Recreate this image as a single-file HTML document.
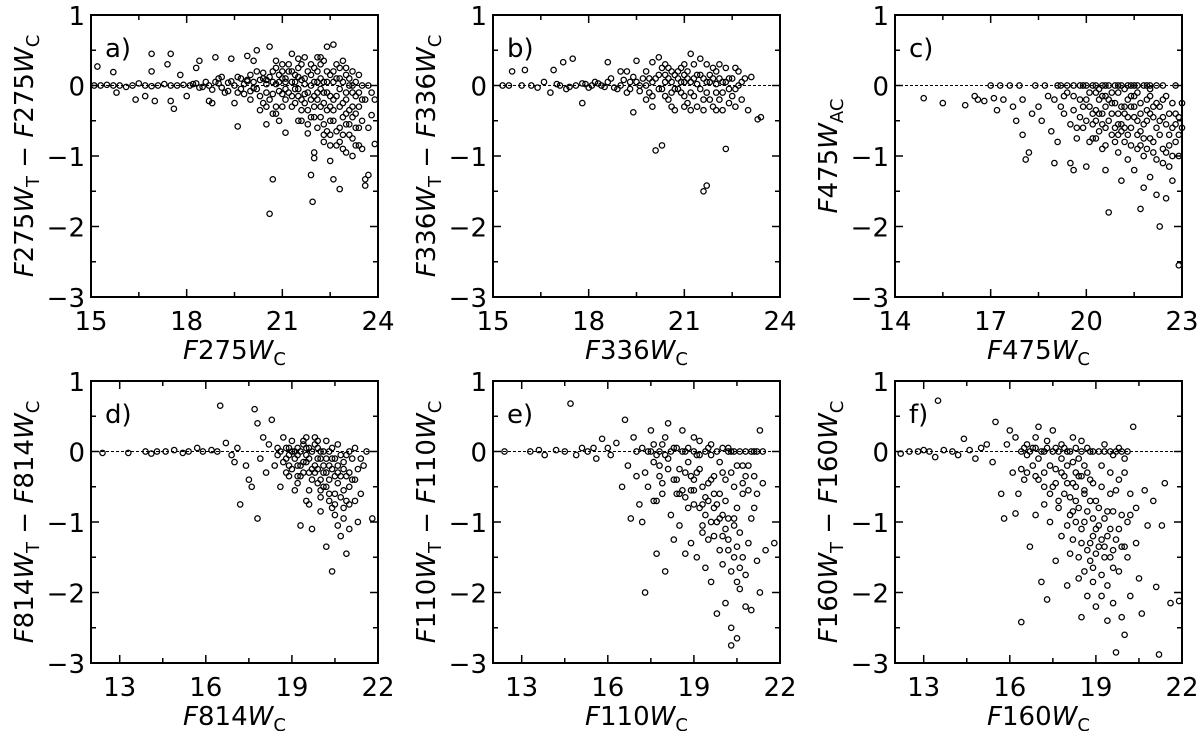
<!DOCTYPE html>
<html><head><meta charset="utf-8"><style>
html,body{margin:0;padding:0;background:#fff;width:1200px;height:731px;overflow:hidden}
svg text{font-family:"DejaVu Sans","Liberation Sans",sans-serif;fill:#000}
</style></head><body>
<svg id="fig" width="1200" height="731" viewBox="0 0 1200 731" xmlns="http://www.w3.org/2000/svg"></svg>
<script>
const aPoints=[[15.1,0],[15.3,0],[15.5,0.01],[15.7,0],[15.9,0],[16.1,-0.02],[16.3,0],[16.5,0.03],[16.7,0],[16.9,-0.01],[17.1,0],[17.3,0.02],[17.5,0],[17.7,0],[17.9,0.01],[18.1,0],[18.3,0.03],[18.5,-0.02],[18.7,0],[18.9,0.05],[19.1,-0.03],[19.3,0.04],[19.5,0],[19.7,-0.05],[19.9,0.06],[20.1,-0.04],[20.3,0.08],[20.5,-0.1],[20.7,0.05],[20.9,-0.08],[21.1,0.1],[21.3,-0.15],[21.5,0.12],[21.7,-0.12],[21.9,0.15],[22.1,-0.2],[22.3,0.05],[22.5,-0.3],[22.7,0.1],[22.9,-0.25],[23.1,0],[23.3,-0.4],[23.5,-0.2],
[15.2,0.27],[15.7,0.19],[15.8,-0.1],[16.4,-0.2],[16.7,-0.15],[16.9,0.45],[16.9,0.2],[17.0,-0.22],[17.4,0.3],[17.5,0.45],[17.5,-0.22],[17.6,-0.33],[17.8,0.15],[18.0,-0.15],[18.3,0.25],[18.4,0.35],[18.7,-0.22],[18.8,-0.25],[18.9,0.4],[19.4,0.38],[19.5,-0.25],[19.6,-0.58],[19.9,0.42],[20.1,0.35],[20.2,0.5],[20.5,-0.55],[20.3,-0.35],[20.6,0.55],[20.7,-0.4],[20.8,-0.4],[20.9,-0.5],[21.0,0.3],[21.1,-0.67],[21.3,0.45],[21.5,-0.5],[21.7,0.4],[21.8,-0.68],[21.9,-1.27],[21.95,-1.65],[22.0,-0.95],[22.0,-1.03],[22.2,0.4],[22.3,-0.7],[22.4,0.55],[22.5,-1.07],[22.6,-1.33],[22.6,0.58],[22.8,-1.47],[22.9,-0.9],[23.0,-0.95],[23.2,-1.0],[23.3,-0.85],[23.5,-0.9],[23.6,-1.33],[23.6,-1.42],[23.7,-1.27],[23.8,-0.42],[23.9,-0.83],[23.7,-0.6],[23.9,-0.2],[23.8,-0.1],[20.6,-1.82],[20.7,-1.33],
[20.2,0.2],[20.4,0.1],[20.6,-0.2],[20.8,0.25],[21.0,-0.3],[21.2,0.2],[21.4,-0.25],[21.6,0.3],[21.8,-0.35],[22.0,0.25],[22.2,-0.45],[22.4,0.2],[22.6,-0.5],[22.8,0.25],[23.0,-0.55],[23.2,0.2],[23.4,-0.6],[22.1,-0.6],[22.3,-0.8],[22.5,-0.7],[22.7,-0.65],[22.9,-0.45],[23.1,-0.35],[23.3,-0.15],[21.9,-0.45],[21.6,-0.2],[21.2,-0.1],[22.7,0.3],[22.3,0.35],[23.0,0.15],
[19.0,0.1],[19.2,-0.1],[19.6,0.12],[19.8,-0.12],[20.0,0.15],[20.0,-0.2],[20.4,-0.25],[20.9,0.15],[21.1,-0.2],[21.5,-0.05],[21.7,0.1],[22.0,-0.15],[22.2,0.1],[22.4,-0.1],[22.6,-0.2],[22.8,-0.05],[23.0,-0.2],[23.2,-0.45],[22.2,-0.3],[21.4,0.05],[20.8,-0.3],[21.8,-0.55],[22.5,-0.85],[23.1,-0.7],[23.4,-0.3],
[18.2,0.02],[18.4,-0.03],[18.6,0.05],[18.8,-0.06],[19.0,0.03],[19.1,0.12],[19.3,-0.08],[19.4,0.06],[19.6,-0.1],[19.7,0.1],[19.8,0.02],[20.0,-0.08],[20.1,0.05],[20.3,-0.15],[20.4,0.18],[20.5,0.02],[20.6,0.12],[20.7,-0.12],[20.9,0.05],[21.0,0.1],[21.0,-0.12],[21.1,-0.05],[21.2,0.3],[21.3,0.05],[21.3,-0.3],[21.4,0.15],[21.5,-0.15],[21.5,0.25],[21.6,-0.35],[21.7,0.02],[21.7,-0.25],[21.8,0.2],[21.8,-0.1],[21.9,0.3],[21.9,0],[22.0,-0.3],[22.0,0.05],[22.1,0.2],[22.1,-0.1],[22.2,-0.05],[22.2,0.3],[22.3,-0.25],[22.3,-0.55],[22.4,-0.35],[22.4,0.05],[22.5,0.15],[22.5,-0.15],[22.5,-0.5],[22.6,0.05],[22.6,-0.35],[22.7,-0.15],[22.7,-0.85],[22.8,-0.3],[22.8,-0.6],[22.9,0.05],[22.9,-0.7],[23.0,-0.1],[23.0,-0.4],[23.1,0.1],[23.1,-0.55],[23.2,-0.1],[23.2,-0.75],[23.3,0.05],[23.3,-0.6],[23.4,-0.1],[23.4,-0.85],[23.5,0],[23.5,-0.5],[23.6,-0.2],[23.7,0],
[19.9,0.08],[20.2,-0.05],[20.5,0.08],[20.8,0.02],[21.1,0.05],[21.4,-0.05],[21.6,0.08],[21.9,-0.2],[22.1,0.05],[22.3,-0.1],[22.6,0.2],[22.8,0.1],[23.0,0.25],[23.2,0],[21.3,0.2],[21.0,0.2],[20.7,0.2],[20.5,-0.3],[21.6,-0.5],[22.0,-0.45],[22.4,-0.65],[22.8,-0.8],[23.2,-0.3],[23.4,0.15],[22.9,0.35],[22.1,0.4],[21.5,0.38],[20.8,0.35]];
const bPoints=[[15.3,0],[15.5,0],[15.6,0.2],[15.9,0],[16.0,0.22],[16.2,0],[16.4,-0.03],[16.6,0.05],[16.8,-0.1],[16.9,0.22],[17.1,0],[17.2,0.33],[17.3,-0.05],[17.5,0.38],[17.6,0],[17.8,-0.25],[17.9,0.02],[18.1,0],[18.3,0.03],[18.5,-0.02],[18.6,0.33],[18.7,0.1],[18.9,-0.05],[19.0,0.2],[19.2,-0.1],[19.3,0.05],[19.4,-0.38],[19.5,0.35],[19.6,0],[19.8,-0.2],[19.9,0.1],[20.0,0.33],[20.1,-0.92],[20.2,0.4],[20.3,-0.85],[20.4,0.05],[20.5,-0.2],[20.6,0.2],[20.7,-0.35],[20.8,0.1],[20.9,-0.1],[21.0,0.3],[21.1,-0.25],[21.2,0.45],[21.3,0.1],[21.4,-0.3],[21.5,0.38],[21.6,-1.5],[21.7,-1.42],[21.7,0.05],[21.8,-0.2],[21.9,0.25],[22.0,-0.1],[22.1,0.3],[22.2,-0.35],[22.3,-0.9],[22.4,0.1],[22.5,-0.15],[22.6,0.25],[22.7,0],[22.8,-0.2],[22.9,0.1],[23.0,-0.35],[23.1,0.12],[23.3,-0.48],[23.4,-0.45],
[19.0,0],[19.5,0.05],[19.8,0],[20.0,0.05],[20.2,-0.05],[20.4,0.15],[20.6,-0.1],[20.8,-0.05],[21.0,0.05],[21.2,-0.1],[21.4,0.15],[21.6,0.1],[21.8,0.15],[22.0,0.2],[22.2,0.05],[22.4,-0.25],[22.6,-0.05],[21.1,0.2],[21.3,-0.15],[21.5,-0.05],[21.9,-0.3],[20.3,0.25],[20.9,0.25],[21.7,0.3],[22.1,-0.2],[20.5,0.1],[21.0,-0.15],[20.7,0.15],[22.3,0.25],
[17.0,0.02],[17.4,-0.02],[17.8,0.03],[18.0,-0.03],[18.2,0.05],[18.4,0],[18.6,0.05],[18.8,-0.03],[19.1,0.08],[19.3,-0.05],[19.4,0.12],[19.6,-0.08],[19.7,0.1],[19.9,-0.1],[20.0,-0.15],[20.1,0.1],[20.2,0.15],[20.3,-0.05],[20.4,-0.15],[20.5,0.25],[20.6,0.05],[20.7,-0.05],[20.8,0.2],[20.9,0.05],[21.0,-0.3],[21.1,0.1],[21.2,0.05],[21.3,0.3],[21.4,0.02],[21.5,0.15],[21.6,-0.2],[21.7,-0.1],[21.8,0.05],[21.9,0.1],[22.0,0.02],[22.1,0.1],[22.2,-0.1],[22.3,0.05],[22.5,0.1],[22.6,-0.3],[22.7,0.2],[22.8,0.05],[19.2,0.2],[19.8,0.2],[20.0,-0.3],[20.6,-0.3],[21.2,-0.35],[21.6,-0.35],[22.0,-0.35],[22.4,-0.05],[20.4,0.3],[21.0,0.15]];
const cPoints=[[14.9,-0.18],[15.5,-0.25],[16.2,-0.28],[16.5,-0.15],[16.6,-0.2],[16.8,-0.22],[17.0,0],[17.1,-0.18],[17.2,-0.35],[17.3,0],[17.4,-0.2],[17.6,0],[17.7,-0.3],[17.8,-0.5],[17.9,0],[18.0,-0.2],[18.0,-0.7],[18.1,-1.05],[18.2,-0.95],[18.3,-0.4],[18.4,0],[18.5,-0.3],[18.6,-0.5],[18.7,0],[18.8,-0.15],[18.9,-0.65],[19.0,-1.1],[19.1,-0.8],[19.2,0],[19.3,-0.4],[19.5,-1.1],[19.6,-1.2],[19.7,-0.6],[19.8,0],[19.9,-0.3],[20.0,-1.15],[20.1,-0.8],[20.2,0],[20.3,-0.5],[20.4,-0.2],[20.5,-0.9],[20.6,-1.2],[20.7,-1.8],[20.8,-0.4],[20.9,0],[21.0,-0.7],[21.1,-1.35],[21.2,-0.3],[21.3,-1.05],[21.4,-0.6],[21.5,-1.2],[21.6,-0.9],[21.7,-1.75],[21.8,-1.45],[21.9,-0.5],[22.0,-1.3],[22.1,-0.8],[22.2,-1.55],[22.3,-2.0],[22.4,-1.1],[22.5,-1.6],[22.6,-0.7],[22.7,-1.35],[22.8,-0.4],[22.9,-2.55],[22.9,-1.0],[23.0,-0.25],
[19.0,-0.2],[19.2,-0.3],[19.4,-0.1],[19.6,-0.35],[19.8,-0.45],[20.0,-0.2],[20.2,-0.55],[20.4,-0.65],[20.6,-0.3],[20.8,-0.7],[21.0,-0.4],[21.2,-0.8],[21.4,-0.3],[21.6,-0.5],[21.8,-0.75],[22.0,-0.4],[22.2,-0.6],[22.4,-0.9],[22.6,-0.4],[22.8,-0.8],[20.1,-0.1],[20.3,-0.35],[20.5,-0.15],[20.7,-0.5],[20.9,-0.25],[21.1,-0.55],[21.3,-0.2],[21.5,-0.45],[21.7,-0.25],[21.9,-0.9],[22.1,-0.3],[22.3,-0.5],[22.5,-0.15],[22.7,-0.6],[20.0,-0.5],[20.4,-0.4],[20.8,-0.1],[21.2,-0.05],[21.6,-0.1],[22.0,-0.05],[22.4,-0.2],[19.9,0],[20.6,0],[21.4,0],[22.2,0],[22.8,0],[20.2,-0.75],[20.6,-0.85],[21.0,-0.95],[21.4,-0.85],[21.8,-1.0],[22.2,-1.05],[22.6,-1.15],[20.5,-0.55],[21.1,-0.65],[21.7,-0.65],[22.3,-0.7],[19.5,-0.55],[19.7,-0.75],[19.3,-0.15],[19.9,-0.6],
[19.1,0],[19.4,0],[19.6,0],[20.0,0],[20.3,0],[20.5,0],[20.7,0],[21.0,0],[21.1,0],[21.3,0],[21.5,0],[21.6,0],[21.8,0],[21.9,0],[22.0,0],[22.4,0],[20.1,-0.3],[20.3,-0.1],[20.5,-0.4],[20.7,-0.2],[20.9,-0.6],[21.1,-0.3],[21.3,-0.45],[21.5,-0.3],[21.7,-0.4],[21.9,-0.2],[22.1,-0.45],[22.3,-0.3],[22.5,-0.55],[22.7,-0.25],[20.2,-0.4],[20.4,-0.05],[20.6,-0.6],[20.8,-0.25],[21.0,-0.55],[21.2,-0.6],[21.4,-0.15],[21.6,-0.7],[21.8,-0.55],[22.0,-0.75],[22.2,-0.25],[22.4,-0.45],[22.6,-0.85],[22.8,-0.55],[20.9,-0.8],[21.3,-0.7],[21.7,-0.85],[22.1,-0.95],[22.5,-0.95],[22.9,-0.7],[21.0,-0.1],[21.5,-0.15],[22.0,-0.15],[20.6,-0.15],[21.9,-0.35],[21.2,-0.4],[20.3,-0.75],[19.8,-0.2],[19.6,-0.15],[22.7,-1.0],[22.9,-0.45],[23.0,-0.6]];
const dPoints=[[12.4,-0.02],[13.3,-0.02],[13.9,0],[14.1,-0.03],[14.3,0],[14.6,0],[14.9,0.02],[15.2,-0.02],[15.4,0],[15.7,0.05],[15.9,0],[16.2,0.02],[16.4,0],[16.5,0.65],[16.7,0.12],[16.9,-0.05],[17.0,-0.15],[17.1,0.05],[17.2,-0.75],[17.4,-0.2],[17.5,-0.4],[17.6,-0.5],[17.7,0.6],[17.8,0.4],[17.8,-0.95],[17.9,-0.1],[18.0,0.2],[18.1,-0.3],[18.2,0.1],[18.3,0.45],[18.4,-0.2],[18.5,0.05],[18.6,-0.5],[18.7,0.2],[18.8,-0.1],[18.9,-0.35],[19.0,0.15],[19.1,-0.55],[19.2,-0.2],[19.3,-1.05],[19.4,0.1],[19.5,-0.7],[19.6,-0.3],[19.7,-1.1],[19.8,0.2],[19.9,-0.45],[20.0,-0.85],[20.1,-0.2],[20.2,-1.35],[20.3,-0.6],[20.4,-1.7],[20.5,-0.9],[20.6,-0.3],[20.7,-1.2],[20.8,-0.55],[20.9,-1.45],[21.0,-0.75],[21.1,-0.1],[21.2,-0.4],[21.3,-1.0],[21.4,-0.6],[21.5,-0.2],[21.6,0],[21.8,-0.95],
[18.5,-0.05],[18.7,-0.15],[18.9,0.05],[19.0,-0.25],[19.2,0.05],[19.4,-0.15],[19.6,0.05],[19.8,-0.2],[20.0,0],[20.2,-0.3],[20.4,-0.1],[20.6,-0.45],[20.8,-0.15],[21.0,-0.3],[19.1,0],[19.3,-0.35],[19.5,-0.05],[19.7,-0.4],[19.9,-0.1],[20.1,-0.5],[20.3,-0.2],[20.5,-0.6],[20.7,-0.05],[20.9,-0.7],[19.6,-0.55],[20.0,-0.65],[20.4,-0.8],[20.8,-0.95],[19.2,-0.45],[19.8,0.1],[20.6,0.1],[21.2,0.05],[19.4,0.15],[20.2,0.15],[18.8,-0.3],[20.6,-1.05],[21.0,-1.1],
[18.6,0],[18.8,0.05],[18.9,-0.05],[19.0,0],[19.1,-0.1],[19.2,-0.05],[19.3,0],[19.3,-0.2],[19.4,-0.3],[19.5,0.05],[19.5,-0.15],[19.6,-0.1],[19.7,0],[19.7,-0.25],[19.8,-0.3],[19.9,0.05],[19.9,-0.25],[20.0,-0.1],[20.0,-0.4],[20.1,0],[20.1,-0.3],[20.2,-0.1],[20.2,-0.5],[20.3,0],[20.3,-0.4],[20.4,-0.25],[20.5,-0.1],[20.5,-0.35],[20.6,-0.2],[20.7,-0.35],[20.7,-0.65],[20.8,-0.25],[20.9,-0.05],[20.9,-0.35],[21.0,-0.5],[21.1,-0.4],[21.2,-0.7],[21.3,-0.25],[21.4,-0.1],[19.6,-0.75],[20.0,-0.55],[20.3,-0.7],[20.5,-0.75],[20.8,-0.8],[21.0,0],[20.4,0.05],[19.9,0.15],[19.5,0.2],[19.2,-0.35],[18.9,-0.2]];
const ePoints=[[12.4,0],[13.3,0],[13.6,0.02],[13.8,-0.05],[14.2,0.02],[14.5,0],[14.7,0.68],[14.9,-0.05],[15.1,0.05],[15.3,0],[15.5,0.05],[15.6,-0.1],[15.8,0.18],[16.0,0.05],[16.1,-0.05],[16.3,0.12],[16.5,-0.5],[16.6,0.45],[16.7,-0.2],[16.8,-0.95],[16.9,0.2],[17.0,-0.35],[17.1,-0.75],[17.2,-1.0],[17.3,-2.0],[17.4,-0.5],[17.5,0.3],[17.6,-0.7],[17.7,-1.45],[17.8,-0.2],[17.9,-0.45],[18.0,-1.7],[18.1,0.4],[18.2,-0.9],[18.3,-1.25],[18.4,-0.6],[18.5,-1.05],[18.6,0.3],[18.7,-1.45],[18.8,-0.8],[18.9,-1.3],[19.0,-0.4],[19.1,-1.5],[19.2,0.15],[19.3,-1.15],[19.4,-1.65],[19.5,-0.7],[19.6,-1.85],[19.7,-1.2],[19.8,-2.3],[19.9,-0.95],[20.0,-1.6],[20.1,-2.15],[20.2,-1.4],[20.3,-2.5],[20.3,-2.75],[20.4,-1.05],[20.5,-2.65],[20.6,-1.95],[20.7,-0.6],[20.8,-2.2],[20.9,-1.3],[21.0,-2.25],[21.1,-0.8],[21.2,-1.55],[21.3,-2.0],[21.4,-0.45],[21.5,-1.4],[21.8,-1.3],[21.1,0],[21.3,0.3],
[17.5,0],[17.7,-0.05],[17.9,0.1],[18.1,-0.1],[18.3,0.05],[18.5,-0.25],[18.7,0],[18.9,-0.35],[19.1,-0.05],[19.3,-0.5],[19.5,0.05],[19.7,-0.6],[19.9,-0.15],[20.1,-0.7],[20.3,0],[20.5,-0.8],[20.7,-0.2],[20.9,-0.55],[18.6,-0.55],[18.8,-0.15],[19.0,-0.75],[19.2,-0.25],[19.4,-0.9],[19.6,-0.4],[19.8,-1.0],[20.0,-0.3],[20.2,-0.95],[20.4,-0.5],[20.6,-1.15],[20.8,-0.35],[19.3,-1.05],[19.5,-1.25],[19.7,-0.8],[19.9,-1.4],[20.1,-1.1],[20.3,-1.7],[20.5,-1.35],[20.7,-1.5],[17.8,-0.35],[18.0,0.2],[18.4,-0.4],[19.0,0.2],[19.6,0.1],[20.2,0.05],[17.3,-0.3],[17.6,-0.15],
[17.0,0],[17.2,0.05],[17.4,0],[17.6,0.1],[17.8,0],[18.0,-0.05],[18.2,0],[18.4,0.05],[18.6,0],[18.8,0.05],[19.0,0],[19.2,-0.05],[19.4,0],[19.6,-0.05],[19.8,0],[20.0,0.05],[20.2,0],[20.4,0],[20.6,0],[20.8,0],[21.0,0],[21.2,0],[21.4,0],[18.1,-0.25],[18.3,-0.4],[18.5,-0.6],[18.7,-0.3],[18.9,-0.55],[19.1,-0.3],[19.3,-0.75],[19.5,-0.45],[19.7,-0.35],[19.9,-0.6],[20.1,-0.4],[20.3,-0.3],[20.5,-0.2],[20.7,-0.45],[20.9,-0.2],[21.1,-0.35],[19.4,-0.65],[19.6,-1.0],[19.8,-0.75],[20.0,-1.2],[20.2,-1.25],[20.4,-1.5],[20.6,-1.65],[20.0,-0.9],[19.2,-0.8],[19.0,-0.55],[18.7,-0.65],[17.9,-0.6],[17.7,-0.7],[20.8,-1.75],[20.5,-1.85],[20.4,-0.95],[21.0,-0.95],[21.2,-0.6]];
const fPoints=[[12.2,-0.03],[12.5,0],[12.8,0],[13.0,0.02],[13.2,0],[13.4,-0.08],[13.5,0.72],[13.7,0.02],[14.0,0],[14.2,-0.05],[14.4,0.18],[14.6,0.02],[14.8,-0.1],[15.0,0.05],[15.2,0.1],[15.4,-0.15],[15.5,0.42],[15.7,-0.6],[15.8,-0.95],[15.9,0.1],[16.0,0.3],[16.1,-0.3],[16.2,-0.88],[16.3,-0.6],[16.4,-2.42],[16.5,-0.4],[16.6,0.1],[16.7,-1.35],[16.8,-0.2],[16.9,-0.9],[17.0,0.35],[17.1,-1.85],[17.2,-0.5],[17.3,-2.1],[17.4,-1.0],[17.5,0.3],[17.6,-1.55],[17.7,-0.7],[17.8,-1.2],[17.9,-0.35],[18.0,-1.9],[18.1,-1.45],[18.2,0.2],[18.3,-1.0],[18.4,-1.8],[18.5,-2.35],[18.6,-0.6],[18.7,-2.05],[18.8,-1.3],[18.9,-1.85],[19.0,-2.2],[19.1,-0.8],[19.2,-2.05],[19.3,-1.5],[19.4,-2.4],[19.5,-1.1],[19.6,-2.15],[19.7,-2.85],[19.8,-1.7],[19.9,-2.35],[20.0,-2.6],[20.1,-1.0],[20.2,-2.05],[20.3,0.35],[20.4,-1.3],[20.5,-1.8],[20.6,-2.3],[20.7,-0.55],[20.8,-1.05],[21.0,-0.7],[21.1,-1.92],[21.2,-2.88],[21.3,-1.05],[21.4,-0.45],[21.6,-2.15],[21.9,-2.12],
[16.4,0],[16.6,-0.05],[16.8,0.05],[17.0,-0.1],[17.2,0],[17.4,-0.2],[17.6,0.05],[17.8,-0.3],[18.0,0],[18.2,-0.45],[18.4,-0.1],[18.6,-0.55],[18.8,0],[19.0,-0.7],[19.2,-0.2],[19.4,-0.85],[19.6,-0.05],[19.8,-0.4],[20.0,-0.1],[20.2,-0.6],[17.5,-0.5],[17.7,-0.8],[17.9,-0.6],[18.1,-0.9],[18.3,-0.7],[18.5,-1.1],[18.7,-0.85],[18.9,-1.2],[19.1,-1.05],[19.3,-1.35],[19.5,-0.6],[19.7,-1.25],[19.9,-0.9],[20.1,-1.5],[18.2,-1.25],[18.4,-1.5],[18.6,-1.7],[18.8,-1.55],[19.0,-1.45],[19.2,-1.75],[19.4,-1.9],[19.6,-1.65],[17.2,-0.3],[16.9,0.2],[17.3,0.15],[17.8,0.1],[18.5,0.15],[19.3,0.1],[19.8,0.05],[16.2,0.2],[16.4,-0.25],[16.9,-0.35],[17.6,-0.25],[18.0,-0.2],[18.7,-0.3],[19.5,-0.3],[20.0,-0.3],[18.3,-0.3],[18.9,-0.45],
[16.5,0.05],[16.7,0],[16.9,0.05],[17.1,0],[17.3,0.05],[17.5,0],[17.7,0],[17.9,0.05],[18.1,0],[18.3,0.05],[18.5,0],[18.7,0.05],[18.9,0],[19.1,0],[19.3,0],[19.5,0],[19.7,0],[19.9,0],[20.1,0],[17.8,-0.1],[18.0,-0.45],[18.1,-0.65],[18.2,-0.15],[18.3,-0.5],[18.4,-0.8],[18.5,-0.35],[18.6,-1.0],[18.7,-1.4],[18.8,-0.7],[18.9,-0.95],[19.0,-1.1],[19.1,-1.35],[19.2,-0.5],[19.3,-0.95],[19.4,-1.2],[19.5,-1.5],[19.6,-0.85],[19.7,-0.55],[19.8,-1.1],[19.9,-1.35],[18.0,-1.05],[18.2,-0.85],[18.4,-0.35],[18.6,-0.2],[18.8,-0.4],[17.4,-0.6],[17.0,-0.4],[16.6,-0.3],[20.2,-0.9],[20.4,-0.8],[19.2,-1.25],[18.9,-1.65],[18.5,-1.3],[19.6,-1.4],[20.0,-1.35],[17.6,-0.45],[17.2,-0.75]];

const panels=[
 {id:'a',pts:aPoints,left:91,top:15,xmin:15,xmax:24,major:[15,18,21,24],minor:[16.5,19.5,22.5],flt:'275',ylabel:'diff'},
 {id:'b',pts:bPoints,left:493,top:15,xmin:15,xmax:24,major:[15,18,21,24],minor:[16.5,19.5,22.5],flt:'336',ylabel:'diff'},
 {id:'c',pts:cPoints,left:895,top:15,xmin:14,xmax:23,major:[14,17,20,23],minor:[15.5,18.5,21.5],flt:'475',ylabel:'ac'},
 {id:'d',pts:dPoints,left:91,top:381,xmin:12,xmax:22,major:[13,16,19,22],minor:[14.5,17.5,20.5],flt:'814',ylabel:'diff'},
 {id:'e',pts:ePoints,left:493,top:381,xmin:12,xmax:22,major:[13,16,19,22],minor:[14.5,17.5,20.5],flt:'110',ylabel:'diff'},
 {id:'f',pts:fPoints,left:895,top:381,xmin:12,xmax:22,major:[13,16,19,22],minor:[14.5,17.5,20.5],flt:'160',ylabel:'diff'}];
const yMajor=[1,0,-1,-2,-3];
const yMinor=[0.5,-0.5,-1.5,-2.5];
const yLabels=['1','0','\u22121','\u22122','\u22123'];
const W=287,H=282,NS='http://www.w3.org/2000/svg';
const svg=document.getElementById('fig');
function mk(t,a,p){const e=document.createElementNS(NS,t);for(const k in a)e.setAttribute(k,a[k]);(p||svg).appendChild(e);return e;}
panels.forEach(p=>{
 const g=mk('g',{});
 
 
 const X=v=>p.left+(v-p.xmin)/(p.xmax-p.xmin)*W;
 const Y=v=>p.top+(1-v)/4*H;
 const zl=mk('line',{x1:p.left,x2:p.left+W,y1:Y(0),y2:Y(0),stroke:'#000','stroke-width':1,'stroke-dasharray':'3,2'},g);
 
 
 p.pts.forEach(d=>{
  const c=mk('circle',{cx:X(d[0]).toFixed(1),cy:Y(d[1]).toFixed(1),r:2.7,fill:'none',stroke:'#000','stroke-width':1.25},g);
  
  
 });
 const fr=mk('rect',{x:p.left,y:p.top,width:W,height:H,fill:'none',stroke:'#000','stroke-width':2},g);
 
 
 const tk=(x1,y1,x2,y2)=>mk('line',{x1,y1,x2,y2,stroke:'#000','stroke-width':1.5},g);
 p.major.forEach(v=>{const x=X(v);tk(x,p.top+H,x,p.top+H-8);tk(x,p.top,x,p.top+8);
  const t=mk('text',{x:x,y:p.top+H+33,'font-size':26,'text-anchor':'middle'},g);t.textContent=String(v);
  
  });
 p.minor.forEach(v=>{const x=X(v);tk(x,p.top+H,x,p.top+H-5);tk(x,p.top,x,p.top+5);});
 yMajor.forEach((v,i)=>{const y=Y(v);tk(p.left,y,p.left+8,y);tk(p.left+W,y,p.left+W-8,y);
  const t=mk('text',{x:p.left-6,y:y+10,'font-size':26,'text-anchor':'end'},g);t.textContent=yLabels[i];
  
  });
 yMinor.forEach(v=>{const y=Y(v);tk(p.left,y,p.left+5,y);tk(p.left+W,y,p.left+W-5,y);});
 const pl=mk('text',{x:p.left+14,y:p.top+42,'font-size':26},g);pl.textContent=p.id+')';
 
 
 const xl=mk('text',{x:p.left+W/2,y:p.top+H+62,'font-size':26,'text-anchor':'middle'},g);
 xl.innerHTML='<tspan font-style="italic">F</tspan>'+p.flt+'<tspan font-style="italic">W</tspan><tspan font-size="18" dy="6">C</tspan>';
 
 
 const yx=p.left-58,yy=p.top+H/2;
 const yl=mk('text',{x:yx,y:yy,'font-size':26,'text-anchor':'middle',transform:`rotate(-90 ${yx} ${yy})`},g);
 if(p.ylabel==='ac') yl.innerHTML='<tspan font-style="italic">F</tspan>475<tspan font-style="italic">W</tspan><tspan font-size="18" dy="6">AC</tspan>';
 else yl.innerHTML='<tspan font-style="italic">F</tspan>'+p.flt+'<tspan font-style="italic">W</tspan><tspan font-size="18" dy="6">T</tspan><tspan dy="-6"> \u2212 </tspan><tspan font-style="italic">F</tspan>'+p.flt+'<tspan font-style="italic">W</tspan><tspan font-size="18" dy="6">C</tspan>';
 
 
});
</script>
</body></html>
